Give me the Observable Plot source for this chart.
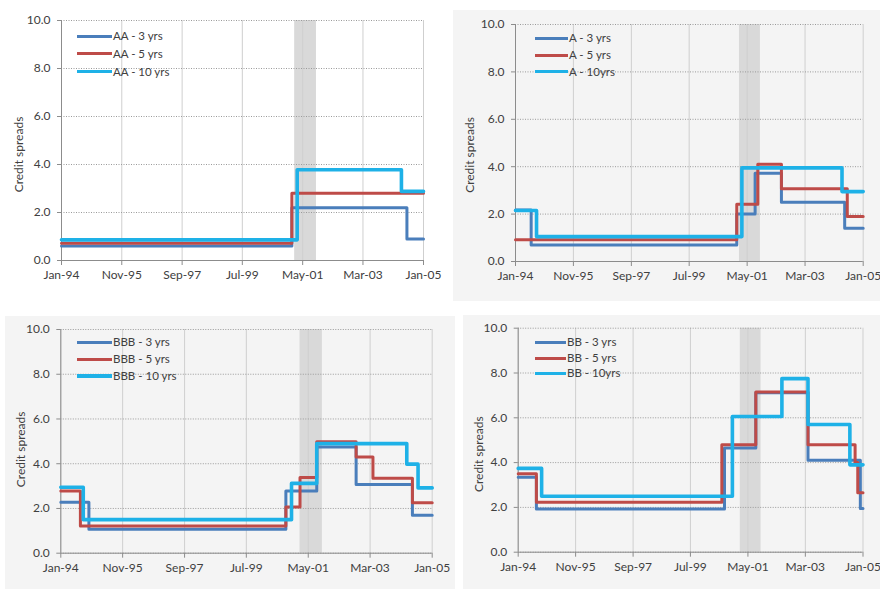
<!DOCTYPE html>
<html>
<head>
<meta charset="utf-8">
<script src="https://cdn.jsdelivr.net/npm/d3@7"></script>
<script src="https://cdn.jsdelivr.net/npm/@observablehq/plot@0.6"></script>
<style>
  body { margin: 0; background: #ffffff; font-family: Lato, "Open Sans", sans-serif; }
  #wrap { position: relative; width: 880px; height: 589px; overflow: hidden; background: #fff; }
  .panel { position: absolute; }
  .panel svg { overflow: visible; }
  .legend { position: absolute; font: 11.5px Lato, sans-serif; color: #404040; }
  .row { position: absolute; white-space: nowrap; }
  .row .sw { position: absolute; left: 0; }
  .row .lb { position: absolute; top: -8px; line-height: 16px; }
</style>
</head>
<body>
<div id="wrap"></div>
<script>
// ---------- data ----------
const xTickDates  = ["1994-01", "1995-11", "1997-09", "1999-07", "2001-05", "2003-03", "2005-01"];
const xTickLabels = ["Jan-94", "Nov-95", "Sep-97", "Jul-99", "May-01", "Mar-03", "Jan-05"];
const yTicks = [0, 2, 4, 6, 8, 10];
const recession = [["2001-02", "2001-10"]];
const axisTitle = "Credit spreads";

// step series: [month, value] change points
const AA_3  = [["1994-01", 0.6], ["2001-01", 2.2], ["2004-07", 0.9], ["2005-01", 0.9]];
const AA_5  = [["1994-01", 0.72], ["2001-01", 2.8], ["2005-01", 2.8]];
const AA_10 = [["1994-01", 0.86], ["2001-03", 3.78], ["2004-05", 2.88], ["2005-01", 2.88]];

const A_3  = [["1994-01", 2.17], ["1994-07", 0.7], ["2001-01", 2.0], ["2001-08", 3.72], ["2002-06", 2.5], ["2004-06", 1.4], ["2005-01", 1.4]];
const A_5  = [["1994-01", 0.92], ["2001-01", 2.42], ["2001-09", 4.1], ["2002-06", 3.07], ["2004-07", 1.9], ["2005-01", 1.9]];
const A_10 = [["1994-01", 2.15], ["1994-09", 1.05], ["2001-03", 3.95], ["2004-05", 2.95], ["2005-01", 2.95]];

const BBB_3  = [["1994-01", 2.28], ["1994-11", 1.07], ["2000-09", 2.78], ["2001-08", 4.75], ["2002-10", 3.07], ["2004-06", 1.7], ["2005-01", 1.7]];
const BBB_5  = [["1994-01", 2.78], ["1994-08", 1.22], ["2000-09", 2.06], ["2001-02", 3.38], ["2001-08", 4.98], ["2002-10", 4.3], ["2003-04", 3.35], ["2004-06", 2.25], ["2005-01", 2.25]];
const BBB_10 = [["1994-01", 2.95], ["1994-09", 1.5], ["2000-11", 3.12], ["2001-08", 4.9], ["2004-04", 3.98], ["2004-08", 2.92], ["2005-01", 2.92]];

const BB_3  = [["1994-01", 3.35], ["1994-08", 1.93], ["2000-08", 4.65], ["2001-08", 7.12], ["2003-04", 4.1], ["2004-12", 1.95], ["2005-01", 1.95]];
const BB_5  = [["1994-01", 3.5], ["1994-08", 2.23], ["2000-07", 4.8], ["2001-08", 7.15], ["2003-04", 4.8], ["2004-10", 4.0], ["2004-11", 2.65], ["2005-01", 2.65]];
const BB_10 = [["1994-01", 3.74], ["1994-10", 2.5], ["2000-11", 6.06], ["2002-06", 7.75], ["2003-04", 5.7], ["2004-08", 3.9], ["2005-01", 3.9]];

const AA_labels  = ["AA - 3 yrs", "AA - 5 yrs", "AA - 10 yrs"];
const A_labels   = ["A - 3 yrs", "A - 5 yrs", "A - 10yrs"];
const BBB_labels = ["BBB - 3 yrs", "BBB - 5 yrs", "BBB - 10 yrs"];
const BB_labels  = ["BB - 3 yrs", "BB - 5 yrs", "BB - 10yrs"];

// ---------- styling / layout ----------
const colors = ["#4a7ebb", "#be4b48", "#1eb1e7"];
const widths = [3, 3, 3.6];
const parse = d3.utcParse("%Y-%m");
const labelOf = new Map(xTickDates.map((d, i) => [+parse(d), xTickLabels[i]]));

const panels = [
  { series: [AA_3, AA_5, AA_10], labels: AA_labels, left: 0, top: 0, w: 440, h: 300,
    ml: 61, mr: 17, mt: 20, mb: 40, bg: "#ffffff", titleDx: -42.7, titleDy: 14,
    lg: { x: 77, len: 35, rows: [36, 53.5, 71.5] } },
  { series: [A_3, A_5, A_10], labels: A_labels, left: 453, top: 10, w: 427, h: 291,
    ml: 62, mr: 17.3, mt: 14, mb: 40, bg: "#f4f4f4", titleDx: -45, titleDy: 12,
    lg: { x: 535, len: 33, rows: [38.3, 55, 71.7] } },
  { series: [BBB_3, BBB_5, BBB_10], labels: BBB_labels, left: 5, top: 316, w: 450, h: 273,
    ml: 55.3, mr: 23.3, mt: 13, mb: 36.3, bg: "#f4f4f4", titleDx: -40, titleDy: 8,
    lg: { x: 77, len: 35, rows: [342.3, 359.3, 376] } },
  { series: [BB_3, BB_5, BB_10], labels: BB_labels, left: 463, top: 315, w: 417, h: 274,
    ml: 54.7, mr: 17.5, mt: 12.7, mb: 37.3, bg: "#f4f4f4", titleDx: -39.4, titleDy: 14,
    lg: { x: 535, len: 31, rows: [342.3, 358, 373.3] } }
];

const wrap = document.getElementById("wrap");
const tickDates = xTickDates.map(parse);
const xDomain = [tickDates[0], tickDates[tickDates.length - 1]];

for (const p of panels) {
  const lineMarks = p.series.map((s, i) =>
    Plot.line(s, {
      x: d => parse(d[0]), y: d => d[1],
      curve: "step-after", stroke: colors[i], strokeWidth: widths[i]
    })
  );
  const chart = Plot.plot({
    width: p.w, height: p.h,
    marginLeft: p.ml, marginRight: p.mr, marginTop: p.mt, marginBottom: p.mb,
    style: { background: p.bg, fontFamily: "Lato, sans-serif", fontSize: "12px", color: "#404040", overflow: "visible" },
    x: { type: "utc", domain: xDomain },
    y: { domain: [0, 10] },
    marks: [
      Plot.rect(recession, { x1: d => parse(d[0]), x2: d => parse(d[1]), fill: "#d9d9d9" }),
      Plot.gridX(tickDates, { stroke: "#cfcfcf", strokeOpacity: 1 }),
      Plot.gridY(yTicks, { stroke: "#9a9a9a", strokeOpacity: 1, strokeDasharray: "1,1.5" }),
      Plot.ruleY([0], { stroke: "#8c8c8c" }),
      Plot.ruleX([xDomain[0]], { stroke: "#8c8c8c" }),
      Plot.axisY(yTicks, { tickFormat: d3.format(".1f"), tickSize: 4, tickPadding: 7, label: null, stroke: "#8c8c8c", fill: "#404040" }),
      Plot.axisX(tickDates, { tickFormat: d => labelOf.get(+d), tickSize: 5, tickPadding: 5, label: null, stroke: "#8c8c8c", fill: "#404040" }),
      Plot.text([axisTitle], { text: d => d, frameAnchor: "left", dx: p.titleDx, dy: p.titleDy, rotate: -90,
        textAnchor: "middle", lineAnchor: "middle", fontSize: 12, fill: "#404040" }),
      ...lineMarks
    ]
  });
  const div = document.createElement("div");
  div.className = "panel";
  div.style.left = p.left + "px";
  div.style.top = p.top + "px";
  div.appendChild(chart);
  wrap.appendChild(div);

  // legend
  const lg = document.createElement("div");
  lg.className = "legend";
  lg.style.left = "0px"; lg.style.top = "0px";
  p.labels.forEach((t, i) => {
    const row = document.createElement("div");
    row.className = "row";
    row.style.left = p.lg.x + "px";
    row.style.top = p.lg.rows[i] + "px";
    const sw = document.createElement("div");
    sw.className = "sw";
    sw.style.width = p.lg.len + "px";
    sw.style.height = widths[i] + "px";
    sw.style.top = (-widths[i] / 2) + "px";
    sw.style.background = colors[i];
    const lb = document.createElement("div");
    lb.className = "lb";
    lb.style.left = (p.lg.len + 1) + "px";
    lb.textContent = t;
    row.appendChild(sw); row.appendChild(lb);
    lg.appendChild(row);
  });
  wrap.appendChild(lg);
}
</script>
</body>
</html>
